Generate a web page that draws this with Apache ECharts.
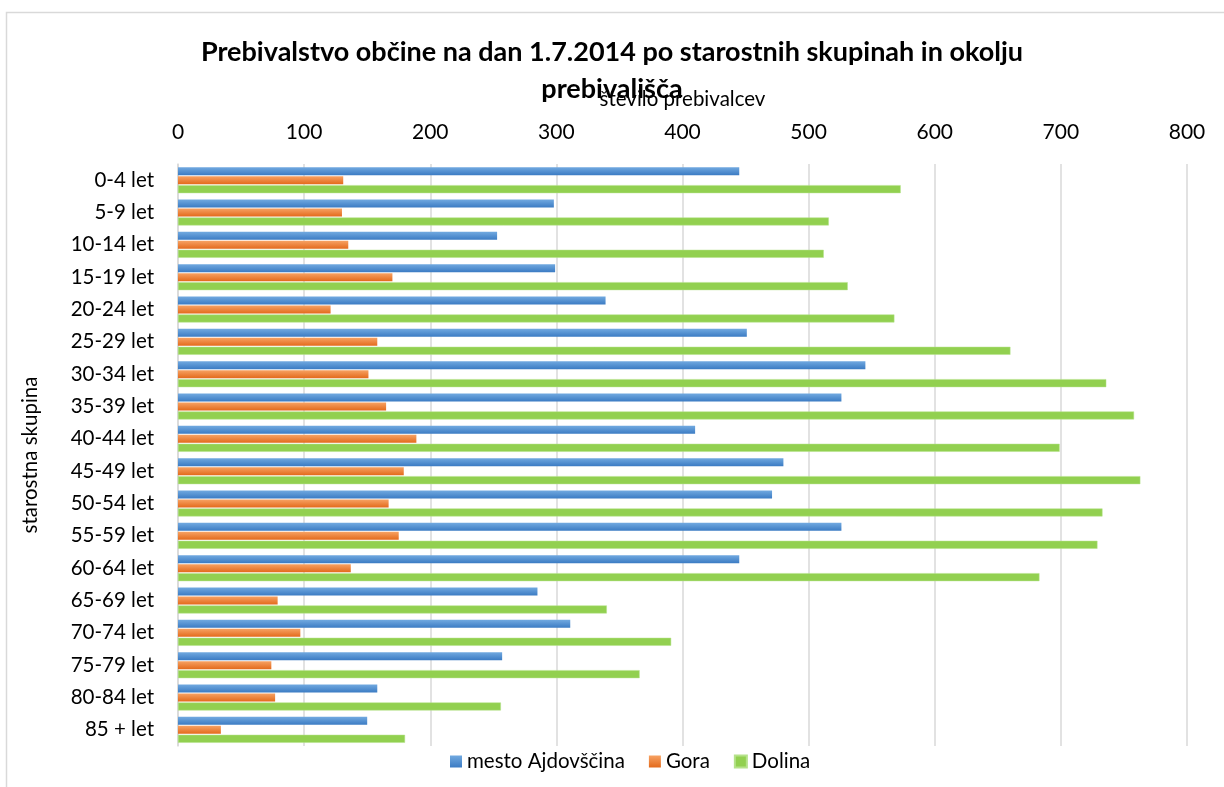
<!DOCTYPE html>
<html>
<head>
<meta charset="utf-8">
<script src="https://cdn.jsdelivr.net/npm/echarts@6/dist/echarts.min.js"></script>
<style>html,body{margin:0;padding:0;background:#fff}#c{width:1224px;height:787px}</style>
</head>
<body>
<div id="c"></div>
<script>
const categories = ["0-4 let","5-9 let","10-14 let","15-19 let","20-24 let","25-29 let","30-34 let","35-39 let","40-44 let","45-49 let","50-54 let","55-59 let","60-64 let","65-69 let","70-74 let","75-79 let","80-84 let","85 + let"];
const mestoAjdovscina = [445,298,253,299,339,451,545,526,410,480,471,526,445,285,311,257,158,150];
const gora = [131,130,135,170,121,158,151,165,189,179,167,175,137,79,97,74,77,34];
const dolina = [573,516,512,531,568,660,736,758,699,763,733,729,683,340,391,366,256,180];
const seriesNames = ["mesto Ajdovščina","Gora","Dolina"];

const FONT = 'Lato, "Open Sans", sans-serif';
const chart = echarts.init(document.getElementById('c'));
function grad(a,b){return new echarts.graphic.LinearGradient(0,0,0,1,[{offset:0,color:a},{offset:1,color:b}]);}
chart.setOption({
  backgroundColor:'#fff',
  animation:false,
  graphic:[{type:'rect',shape:{x:6.5,y:12.5,width:1240,height:800},style:{fill:'none',stroke:'#d9d9d9',lineWidth:1.5},silent:true}],
  title:{text:'Prebivalstvo občine na dan 1.7.2014 po starostnih skupinah in okolju\nprebivališča',left:'center',top:29,
    textStyle:{fontFamily:FONT,fontWeight:'bold',fontSize:27,color:'#000',lineHeight:37}},
  legend:{data:seriesNames,bottom:10,left:445,itemWidth:12,itemHeight:12,itemGap:24,icon:'rect',
    textStyle:{fontFamily:FONT,fontSize:20.5,color:'#000'}},
  grid:{left:178,right:37,top:164,bottom:41},
  xAxis:{type:'value',position:'top',min:0,max:800,interval:100,
    name:'število prebivalcev',nameLocation:'middle',nameGap:54,
    nameTextStyle:{fontFamily:FONT,fontSize:20.5,color:'#000'},
    axisLine:{show:false},axisTick:{show:false},
    axisLabel:{fontFamily:FONT,fontSize:21,color:'#000',margin:21},
    splitLine:{lineStyle:{color:'#d9d9d9',width:1.5}}},
  yAxis:{type:'category',data:categories,inverse:true,
    name:'starostna skupina',nameLocation:'middle',nameGap:137,nameRotate:90,
    nameTextStyle:{fontFamily:FONT,fontSize:20.5,color:'#000'},
    axisLine:{lineStyle:{color:'#d9d9d9',width:1.5}},axisTick:{show:false},
    axisLabel:{fontFamily:FONT,fontSize:20.5,color:'#000',margin:24}},
  series:[
    {name:seriesNames[0],type:'bar',data:mestoAjdovscina,barWidth:8,barGap:'12%',
      itemStyle:{color:grad('#71a9e0','#3b7bc3')}},
    {name:seriesNames[1],type:'bar',data:gora,barWidth:8,barGap:'12%',
      itemStyle:{color:grad('#f7a263','#e36a1c')}},
    {name:seriesNames[2],type:'bar',data:dolina,barWidth:8,barGap:'12%',
      itemStyle:{color:'#92d050',borderColor:'#b5e28a',borderWidth:0.5}}
  ]
});
</script>
</body>
</html>
